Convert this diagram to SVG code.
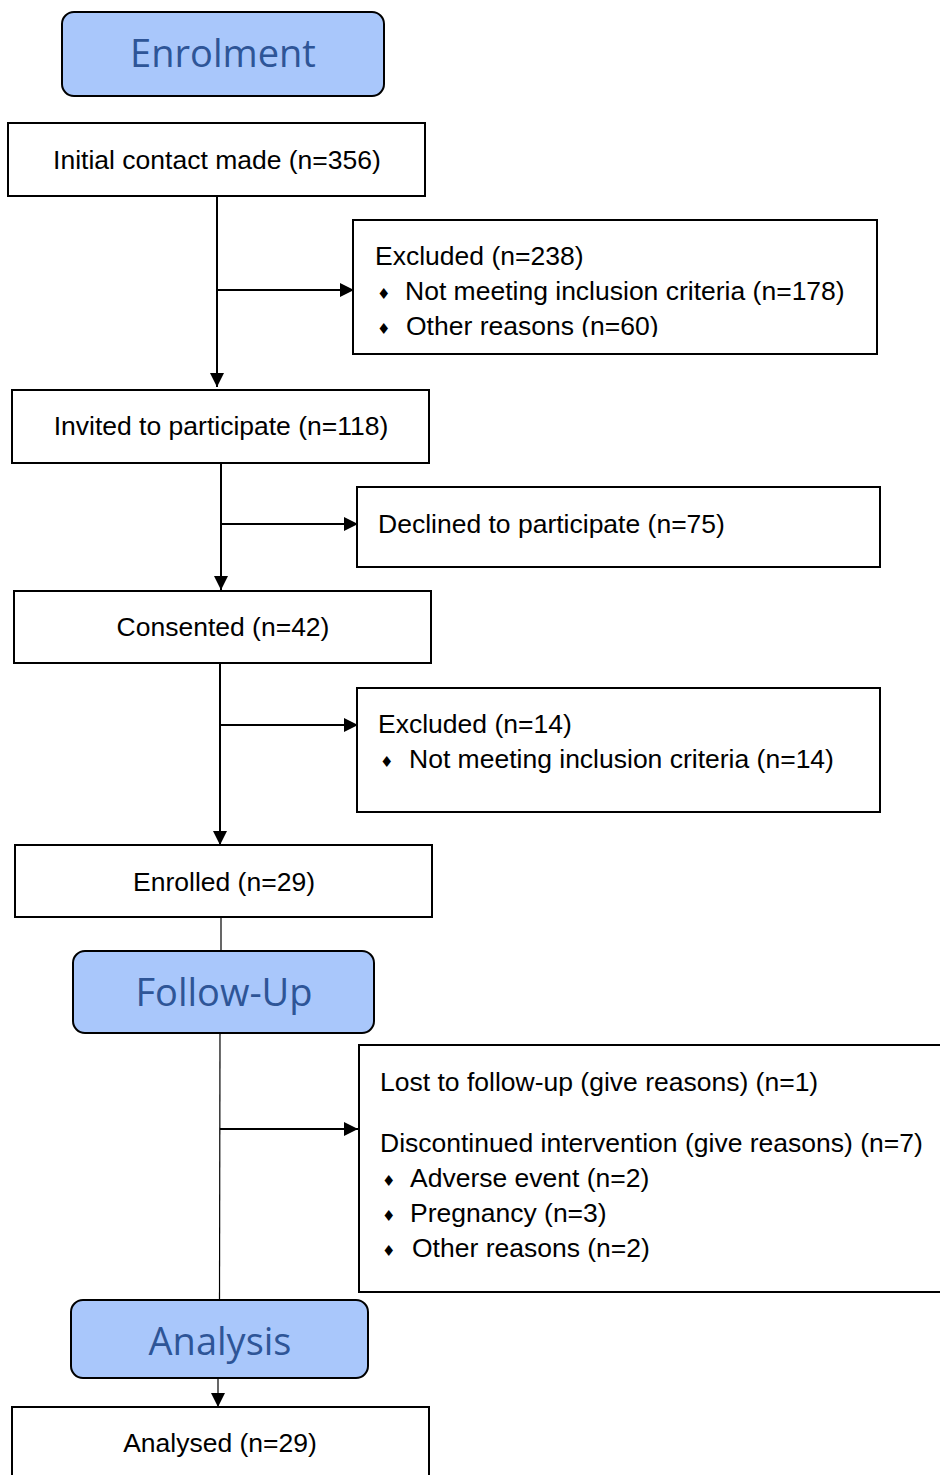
<svg xmlns="http://www.w3.org/2000/svg" width="940" height="1475" viewBox="0 0 940 1475">
<style>
.hdr{fill:#a9c7fb;stroke:#000;stroke-width:2}
.ht{font-family:"Open Sans","Noto Sans",sans-serif;font-size:38px;fill:#2e5597;text-anchor:middle}
.box{fill:#fff;stroke:#000;stroke-width:2}
.t{font-family:"Liberation Sans",Arial,sans-serif;font-size:26.5px;fill:#000}
.c{text-anchor:middle}
.b{font-family:"DejaVu Sans",sans-serif;font-size:15px;fill:#000}
.ln{stroke:#000;stroke-width:2;fill:none}
.thin{stroke:#000;stroke-width:1.2;fill:none}
</style>
<defs>
<marker id="ah" markerUnits="userSpaceOnUse" markerWidth="16" markerHeight="16" refX="14" refY="7" orient="auto">
<path d="M0,0 L14,7 L0,14 z" fill="#000"/>
</marker>
<clipPath id="clip1"><rect x="353" y="220" width="524" height="117"/></clipPath>
</defs>
<rect width="940" height="1475" fill="#fff"/>
<g id="connectors">
<line class="ln" x1="217" y1="196" x2="217" y2="387" marker-end="url(#ah)"/>
<line class="ln" x1="217" y1="290" x2="354" y2="290" marker-end="url(#ah)"/>
<line class="ln" x1="221" y1="463" x2="221" y2="590" marker-end="url(#ah)"/>
<line class="ln" x1="221" y1="524" x2="358" y2="524" marker-end="url(#ah)"/>
<line class="ln" x1="220" y1="663" x2="220" y2="845" marker-end="url(#ah)"/>
<line class="ln" x1="220" y1="725" x2="358" y2="725" marker-end="url(#ah)"/>
<line class="thin" x1="221" y1="917" x2="221" y2="951"/>
<line class="thin" x1="220" y1="1033" x2="219.5" y2="1300"/>
<line class="ln" x1="220" y1="1129" x2="358" y2="1129" stroke-width="1.5" marker-end="url(#ah)"/>
<line class="thin" x1="218" y1="1378" x2="218" y2="1407" marker-end="url(#ah)"/>
</g>
<g id="enrolment">
<rect class="hdr" x="62" y="12" width="322" height="84" rx="12"/>
<text class="ht" x="223" y="67">Enrolment</text>
</g>
<g id="initial">
<rect class="box" x="8" y="123" width="417" height="73"/>
<text class="t c" x="217" y="169">Initial contact made (n=356)</text>
</g>
<g id="excluded1">
<rect class="box" x="353" y="220" width="524" height="134"/>
<g clip-path="url(#clip1)">
<text class="t" x="375" y="265">Excluded (n=238)</text>
<text class="b" x="377" y="299">♦</text>
<text class="t" x="405" y="300">Not meeting inclusion criteria (n=178)</text>
<text class="b" x="377" y="334">♦</text>
<text class="t" x="406" y="335">Other reasons (n=60)</text>
</g>
</g>
<g id="invited">
<rect class="box" x="12" y="390" width="417" height="73"/>
<text class="t c" x="221" y="435">Invited to participate (n=118)</text>
</g>
<g id="declined">
<rect class="box" x="357" y="487" width="523" height="80"/>
<text class="t" x="378" y="533">Declined to participate (n=75)</text>
</g>
<g id="consented">
<rect class="box" x="14" y="591" width="417" height="72"/>
<text class="t c" x="223" y="636">Consented (n=42)</text>
</g>
<g id="excluded2">
<rect class="box" x="357" y="688" width="523" height="124"/>
<text class="t" x="378" y="733">Excluded (n=14)</text>
<text class="b" x="380" y="767">♦</text>
<text class="t" x="409" y="768">Not meeting inclusion criteria (n=14)</text>
</g>
<g id="enrolled">
<rect class="box" x="15" y="845" width="417" height="72"/>
<text class="t c" x="224" y="891">Enrolled (n=29)</text>
</g>
<g id="followup">
<rect class="hdr" x="73" y="951" width="301" height="82" rx="12"/>
<text class="ht" x="224" y="1006">Follow-Up</text>
</g>
<g id="lost">
<rect class="box" x="359" y="1045" width="600" height="247"/>
<text class="t" x="380" y="1091">Lost to follow-up (give reasons) (n=1)</text>
<text class="t" x="380" y="1152">Discontinued intervention (give reasons) (n=7)</text>
<text class="b" x="382" y="1186">♦</text>
<text class="t" x="410" y="1187">Adverse event (n=2)</text>
<text class="b" x="382" y="1221">♦</text>
<text class="t" x="410" y="1222">Pregnancy (n=3)</text>
<text class="b" x="382" y="1256">♦</text>
<text class="t" x="412" y="1257">Other reasons (n=2)</text>
</g>
<g id="analysis">
<rect class="hdr" x="71" y="1300" width="297" height="78" rx="12"/>
<text class="ht" x="220" y="1355">Analysis</text>
</g>
<g id="analysed">
<rect class="box" x="12" y="1407" width="417" height="80"/>
<text class="t c" x="220" y="1452">Analysed (n=29)</text>
</g>
</svg>
